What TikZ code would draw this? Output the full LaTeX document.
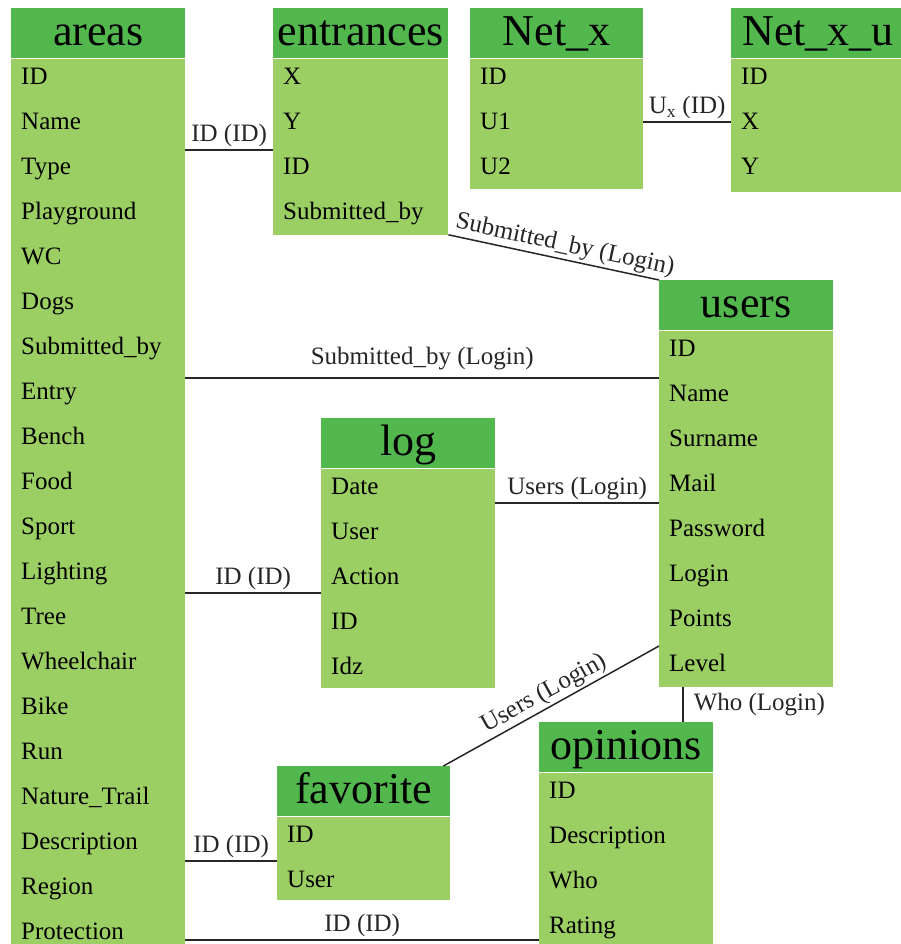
\documentclass[tikz,border=0pt]{standalone}
\usepackage{fontspec}
\setmainfont{Liberation Serif}
\usetikzlibrary{positioning,calc}
\definecolor{headgreen}{RGB}{82,184,77}
\definecolor{bodygreen}{RGB}{156,207,99}
\tikzset{
  headcell/.style={fill=headgreen, anchor=north west, minimum height=50, inner sep=0pt,
    text height=31, text depth=6, font=\fontsize{44}{44}\selectfont},
  bodycell/.style={fill=bodygreen, anchor=north west, inner sep=0pt},
  fieldtext/.style={anchor=base west, inner sep=0pt, font=\fontsize{25}{25}\selectfont},
  link/.style={line width=1.5, black!85},
  linklabel/.style={font=\fontsize{25}{25}\selectfont, inner sep=2pt}
}
% one table: node name, title, x, y, width, body height, fields
\newcommand{\erbox}[7]{%
  \node[headcell, minimum width=#5] (#1) at (#3,#4) {#2};
  \node[bodycell, minimum width=#5, minimum height=#6] (#1-body) at (#1.south west) {};
  \foreach \f [count=\i] in {#7} {
    \node[fieldtext] (#1-\i) at ($(#1.south west)+(10,26+45*\i-45)$) {\f};
  }
}

\begin{document}
\begin{tikzpicture}[x=1pt, y=-1pt]
\clip (0,0) rectangle (901,944);
\fill[white] (0,0) rectangle (901,944);

% tables
\erbox{areas}{areas}{11}{8}{174}{900}{ID,Name,Type,Playground,WC,Dogs,Submitted\_by,Entry,Bench,Food,Sport,Lighting,Tree,Wheelchair,Bike,Run,Nature\_Trail,Description,Region,Protection}
\erbox{entrances}{entrances}{273}{8}{175}{176}{X,Y,ID,Submitted\_by}
\erbox{netx}{Net\_x}{470}{8}{173}{130}{ID,U1,U2}
\erbox{netxu}{Net\_x\_u}{731}{8}{174}{133}{ID,X,Y}
\erbox{users}{users}{659}{280}{174}{356}{ID,Name,Surname,Mail,Password,Login,Points,Level}
\erbox{log}{log}{321}{418}{174}{219}{Date,User,Action,ID,Idz}
\erbox{favorite}{favorite}{277}{766}{173}{83}{ID,User}
\erbox{opinions}{opinions}{539}{722}{174}{200}{ID,Description,Who,Rating}

% relations
\draw[link] (areas-body.east |- 0,150) -- node[linklabel, above] {ID (ID)} (entrances-body.west |- 0,150);
\draw[link] (netx-body.east |- 0,122) -- node[linklabel, above] {U\textsubscript{x} (ID)} (netxu-body.west |- 0,122);
\draw[link] (entrances-body.south east) -- node[linklabel, above, sloped, pos=0.54] {Submitted\_by (Login)} (users.north west);
\draw[link] (areas-body.east |- 0,378) -- node[linklabel, above, yshift=5] {Submitted\_by (Login)} (users-body.west |- 0,378);
\draw[link] (log-body.east |- 0,503) -- node[linklabel, above] {Users (Login)} (users-body.west |- 0,503);
\draw[link] (areas-body.east |- 0,593) -- node[linklabel, above] {ID (ID)} (log-body.west |- 0,593);
\draw[link] (users-body.west |- 0,646) -- node[linklabel, above, sloped] {Users (Login)} ([xshift=-7]favorite.north east);
\draw[link] ([xshift=24]users-body.south west) -- node[linklabel, right, xshift=8] {Who (Login)} ([xshift=24]users-body.south west |- opinions.north);
\draw[link] (areas-body.east |- 0,861) -- node[linklabel, above] {ID (ID)} (favorite-body.west |- 0,861);
\draw[link] (areas-body.east |- 0,940) -- node[linklabel, above] {ID (ID)} (opinions-body.west |- 0,940);
\end{tikzpicture}
\end{document}
